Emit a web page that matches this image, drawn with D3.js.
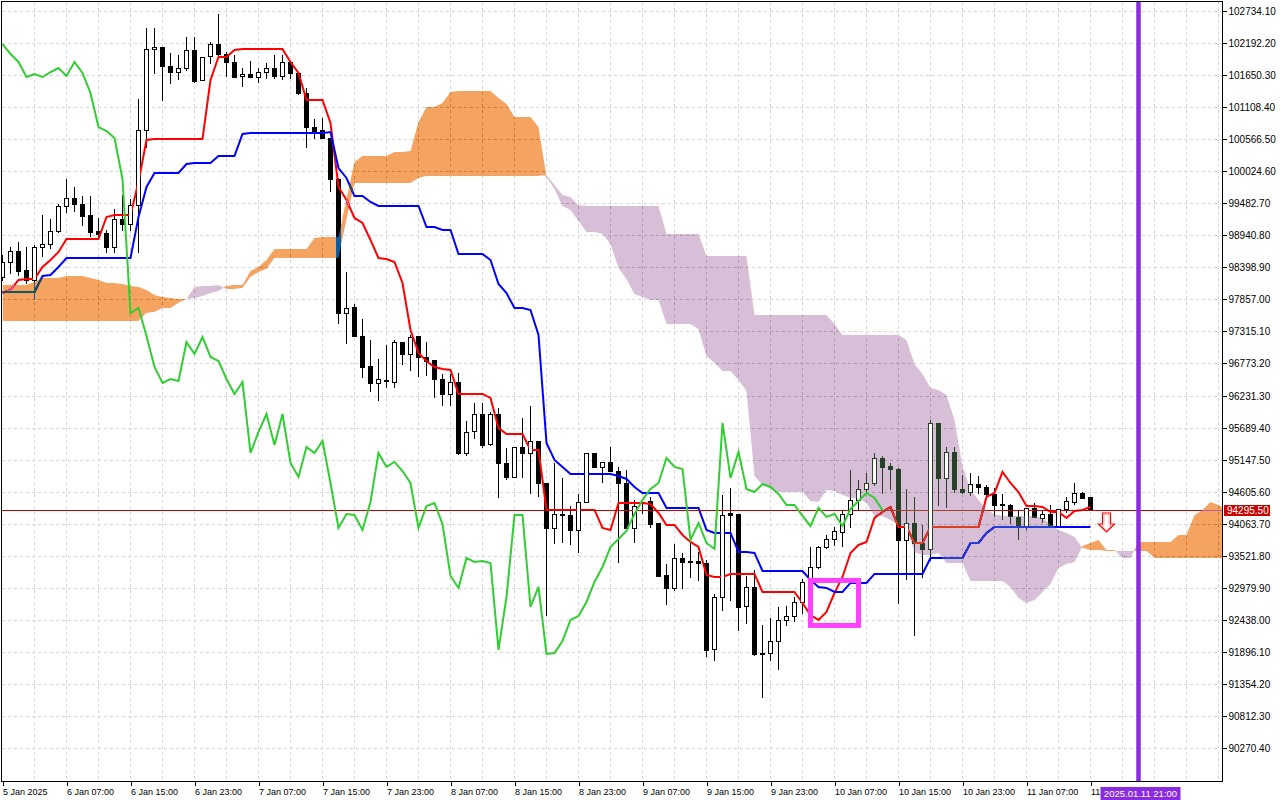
<!DOCTYPE html>
<html>
<head>
<meta charset="utf-8">
<script src="https://cdn.jsdelivr.net/npm/d3@7"></script>
<style>
html, body { margin: 0; padding: 0; background: #fff; }
svg { display: block; font-family: "Liberation Sans", Arial, sans-serif; }
</style>
</head>
<body>
<svg id="chart" width="1280" height="800"></svg>
<script>
// hourly candles, first bar = 5 Jan 23:00
const open = [
98236,98490,98676,98354,98185,98743,98794,99014,99437,99572,
99470,99284,99014,98980,98743,99217,99132,99453,100722,102091,
102125,101804,101702,101770,102075,101567,101973,102176,102007,101872,
101635,101669,101618,101702,101770,101635,101872,101686,101347,100772,
100722,100586,99893,97627,97729,97238,96731,96444,96494,96460,
97137,96934,97238,96883,96832,96511,96258,96460,95260,95632,
95919,95412,95919,95091,94854,95361,95260,95463,94752,93992,
94228,94212,93958,94431,95260,95023,95108,94955,94752,93992,
94431,94448,94076,93197,92977,93484,93434,93434,93400,91946,
92825,94245,94228,92673,92994,91878,91878,92081,92436,92504,
92740,93079,93332,93670,93806,93924,94228,94465,94651,94752,
95175,95040,94989,93789,94076,93738,93637,95767,94837,95277,
94651,94600,94735,94685,94567,94397,94380,94178,94025,94330,
94161,94228,94025,94313,94431,94583,94516];
const high = [
98608,98743,98828,98743,98777,99284,99217,99470,99893,99758,
99606,99606,99234,99031,99386,99623,99555,101246,102447,102447,
102125,102024,101990,102294,102294,101956,102210,102683,102041,101990,
101770,101889,101770,101855,101990,101990,101889,101686,101432,100908,
100925,100586,99910,98320,97779,97526,97171,96849,97086,97171,
97137,97255,97238,97137,96832,96596,96596,96613,95801,96105,
96105,95953,96020,95344,95361,95852,96054,95463,94752,95091,
94837,94364,94567,95260,95260,95108,95361,95023,94972,94465,
94482,94516,94076,93383,93721,93569,93873,93586,93450,92876,
94550,94668,94228,93180,93281,92351,92470,92656,92673,92825,
93129,93670,93687,93873,94009,94296,94972,94803,94922,95260,
95209,95091,95006,94651,94516,94042,95818,95767,95361,95361,
94888,94922,94871,94718,94668,94567,94397,94279,94330,94414,
94296,94380,94313,94516,94752,94600,94516];
const low = [
98185,98304,98270,98134,97864,98591,98726,98997,99335,99352,
99115,98929,98896,98659,98659,99031,99031,98659,100434,101686,
101229,101516,101584,101736,101533,101567,101855,101990,101635,101618,
101466,101618,101533,101601,101601,101584,101601,101330,100434,100586,
100586,99690,97458,97120,97238,96545,96308,96156,96376,96376,
96765,96663,96562,96579,96207,96071,96071,95243,95226,95514,
95361,95395,94516,94820,94854,94854,94583,94533,92520,93738,
93755,93721,93586,94431,95023,94769,94955,93417,93992,93755,
94245,94009,93180,92707,92944,92977,93163,93112,91827,91760,
92605,92774,92267,92385,91844,91134,91760,91608,92351,92419,
92555,93028,93315,93654,93704,93687,94009,94296,94583,94718,
94583,94651,92724,93129,92182,93163,93450,94380,94347,94600,
94583,94550,94583,94499,94195,94144,94076,93806,93975,94178,
94093,94025,94025,94262,94397,94499,94290];
const close = [
98490,98676,98337,98185,98743,98794,99014,99437,99572,99470,
99267,98997,98963,98743,99217,99132,99453,100722,102091,102125,
101804,101702,101770,102075,101550,101956,102176,102007,101872,101618,
101669,101618,101702,101770,101635,101872,101686,101347,100772,100705,
100586,99893,97627,97712,97238,96714,96444,96511,96477,97137,
96934,97221,96883,96815,96511,96258,96460,95260,95615,95919,
95395,95919,95091,94854,95361,95260,95463,94752,93992,94228,
94212,93958,94431,95260,95023,95108,94955,94752,93992,94364,
94414,94059,93180,92977,93484,93417,93434,93400,91929,92825,
94212,94212,92656,92994,91861,91878,92081,92436,92504,92740,
93079,93332,93670,93806,93941,94228,94465,94651,94752,95175,
95023,94989,93789,94076,93738,93637,95767,94837,95277,94651,
94600,94735,94685,94567,94380,94380,94195,94025,94330,94178,
94228,94025,94313,94448,94583,94499,94295.5];

// ichimoku lines
const tenkan = [
97965,98016,98185,98202,98202,98405,98523,98659,98878,98878,
98878,98878,98878,99250,99284,99284,99284,99842,100553,100570,
100570,100570,100570,100570,100570,100570,101567,101956,101956,102075,
102091,102091,102091,102091,102091,102091,101872,101686,101229,101229,
101229,100840,99758,99538,99234,99149,98862,98557,98540,98490,
98134,97340,96951,96815,96714,96680,96663,96258,96258,96258,
96258,96190,95683,95581,95581,95581,95311,95311,94296,94296,
94296,94296,94296,94296,94296,93992,93958,94414,94414,94414,
94414,94397,94245,94042,94042,93873,93755,93670,93197,93163,
93163,93214,93214,93214,93214,92910,92910,92910,92910,92910,
92723,92520,92436,92571,92893,93163,93569,93704,93755,94161,
94262,94347,94009,94009,93738,93738,94009,94009,94009,94009,
94009,94009,94009,94516,94583,94939,94752,94600,94364,94364,
94347,94262,94262,94161,94279,94296,94347];
const kijun = [
97982,97982,97982,97982,97982,98253,98270,98405,98557,98557,
98557,98557,98557,98557,98557,98557,98557,99250,99758,99995,
99995,99995,99995,100147,100164,100164,100164,100282,100282,100282,
100654,100671,100671,100671,100671,100671,100671,100671,100671,100671,
100671,100688,100079,99910,99606,99606,99504,99437,99437,99437,
99437,99437,99437,99081,99081,99031,99031,98625,98625,98625,
98625,98523,98117,97965,97712,97712,97678,97256,95429,95141,
95023,94905,94905,94905,94905,94905,94905,94871,94820,94685,
94583,94583,94583,94330,94330,94330,94330,94330,93958,93907,
93907,93907,93586,93586,93569,93264,93264,93264,93264,93264,
93264,93112,92994,92977,92910,92910,93062,93062,93062,93214,
93214,93214,93214,93214,93214,93214,93484,93484,93484,93484,
93484,93738,93738,93907,94009,94009,94009,94009,94009,94009,
94009,94009,94009,94009,94009,94009,94009];
// cloud, runs 26 bars past the last candle (cut by the plot edge)
const senkouA = [
98101,98101,98101,98101,98151,98219,98219,98219,98253,98253,
98253,98219,98185,98134,98134,98117,98084,98067,98016,97931,
97898,97881,97864,97864,97881,97915,97965,97999,98084,98101,
98101,98337,98405,98523,98709,98709,98709,98709,98709,98895,
98912,98912,98912,99555,100181,100282,100282,100282,100282,100350,
100350,100367,100857,101111,101111,101178,101364,101381,101381,101381,
101381,101381,101263,101161,100942,100942,100942,100772,99927,99724,
99437,99369,99183,98997,98997,98963,98794,98388,98202,97948,
97898,97847,97847,97441,97441,97441,97441,97357,96900,96782,
96646,96646,96494,96308,94871,94718,94668,94600,94600,94600,
94600,94448,94431,94634,94617,94550,94499,94499,94414,94195,
94195,94127,94042,94009,93586,93535,93535,93569,93400,93400,
93400,93095,93095,93095,93095,93095,92994,92808,92723,92774,
92910,93045,93315,93383,93417,93687,93738,93789,93620,93620,
93484,93484,93755,93755,93755,93755,93755,93873,93873,94212,
94296,94431,94380,94313];
const senkouB = [
97492,97492,97492,97492,97492,97492,97492,97492,97492,97492,
97492,97492,97492,97492,97492,97492,97492,97492,97627,97644,
97712,97712,97796,97864,98067,98084,98084,98101,98033,98033,
98050,98236,98320,98371,98557,98557,98557,98557,98557,98557,
98557,98557,98557,99200,99826,99826,99826,99826,99826,99826,
99826,99826,99910,99944,99944,99944,99944,99944,99944,99944,
99944,99944,99944,99944,99944,99944,99944,99944,99961,99792,
99623,99589,99453,99437,99437,99437,99437,99437,99437,99437,
99437,99437,99437,98963,98963,98963,98963,98963,98591,98591,
98591,98591,98591,98591,97593,97593,97593,97593,97593,97593,
97593,97593,97593,97593,97441,97255,97255,97255,97255,97255,
97255,97255,97255,97171,96765,96596,96359,96325,96241,95818,
95040,94634,94465,94296,94228,94195,94195,94195,94195,94195,
94161,94059,93958,93907,93839,93654,93620,93620,93603,93603,
93603,93603,93603,93603,93484,93484,93484,93484,93484,93484,
93484,93484,93484,93484];
// lagging span is the close drawn 26 bars back
const chikou = close.slice(26);

const priceTicks = [102734.1,102192.2,101650.3,101108.4,100566.5,100024.6,99482.7,98940.8,
    98398.9,97857.0,97315.1,96773.2,96231.3,95689.4,95147.5,94605.6,94063.7,93521.8,
    92979.9,92438.0,91896.1,91354.2,90812.3,90270.4];
const timeLabels = ['5 Jan 2025','6 Jan 07:00','6 Jan 15:00','6 Jan 23:00','7 Jan 07:00',
    '7 Jan 15:00','7 Jan 23:00','8 Jan 07:00','8 Jan 15:00','8 Jan 23:00','9 Jan 07:00',
    '9 Jan 15:00','9 Jan 23:00','10 Jan 07:00','10 Jan 15:00','10 Jan 23:00','11 Jan 07:00',
    '11 Jan 15:00'];

// chart objects
const lastPrice = 94295.5;
const boxBars = [101, 107], boxPrices = [93104, 92343];
const arrowBar = 138, arrowPrice = 94245;
const vlineBar = 142, vlineLabel = '2025.01.11 21:00';

const W = 1280, H = 800, plotRight = 1222, plotBottom = 781;
const font = '"Liberation Sans", Arial, sans-serif';

const x = d3.scaleLinear().domain([0, 152]).range([2.5, 1218.5]);
const y = d3.scaleLinear().domain([90270.4, 102734.1]).range([748, 11]);
const ry = v => Math.round(y(v));
const tickBars = d3.range(0, 137, 8);
const vx = x(vlineBar);

const svg = d3.select('#chart');
svg.append('rect').attr('width', W).attr('height', H).attr('fill', '#fff');

const defs = svg.append('defs');
defs.append('clipPath').attr('id', 'plotClip')
    .append('rect').attr('x', 2).attr('y', 2).attr('width', plotRight - 2).attr('height', plotBottom - 2);
defs.append('clipPath').attr('id', 'aboveB')
    .append('path').datum(senkouB)
    .attr('d', d3.area().x((d, i) => x(i)).y0(0).y1(d => y(d)));
defs.append('clipPath').attr('id', 'belowB')
    .append('path').datum(senkouB)
    .attr('d', d3.area().x((d, i) => x(i)).y0(plotBottom).y1(d => y(d)));
// in the last tick's own coordinates: stop where the vertical-line label starts
defs.append('clipPath').attr('id', 'labelClip')
    .append('rect').attr('x', -3).attr('y', 0)
    .attr('width', vx - 38 - x(tickBars[tickBars.length - 1]) + 3).attr('height', 20);

// everything inside the plot sits in one group so the cloud blend sees a white backdrop
const plot = svg.append('g').attr('clip-path', 'url(#plotClip)');
plot.append('rect').attr('width', plotRight).attr('height', plotBottom).attr('fill', '#fff');

const grid = plot.append('g')
    .attr('stroke', '#d6d6d6').attr('stroke-dasharray', '3,3').attr('shape-rendering', 'crispEdges');
grid.selectAll('.gh').data(priceTicks).join('line').attr('class', 'gh')
    .attr('x1', 2).attr('x2', plotRight)
    .attr('y1', d => ry(d) + 0.5).attr('y2', d => ry(d) + 0.5);
grid.selectAll('.gv').data(d3.range(4, 153, 4)).join('line').attr('class', 'gv')
    .attr('x1', d => x(d)).attr('x2', d => x(d))
    .attr('y1', 2).attr('y2', plotBottom);

const bars = d3.range(close.length);
const bodyTop = i => ry(Math.max(open[i], close[i]));
const bodyBot = i => ry(Math.min(open[i], close[i]));

const candles = plot.append('g').attr('shape-rendering', 'crispEdges');
candles.selectAll('line').data(bars).join('line')
    .attr('x1', i => x(i)).attr('x2', i => x(i))
    .attr('y1', i => ry(high[i])).attr('y2', i => ry(low[i]) + 1)
    .attr('stroke', '#000');
candles.selectAll('rect').data(bars).join('rect')
    .attr('x', i => x(i) - 2).attr('width', 4)
    .attr('y', i => bodyTop(i) + 0.5)
    .attr('height', i => Math.max(1, bodyBot(i) - bodyTop(i)))
    .attr('fill', i => close[i] >= open[i] ? '#fff' : '#000')
    .attr('stroke', '#000');

const line = d3.line().x((d, i) => x(i)).y(d => y(d));
plot.append('path').datum(tenkan).attr('d', line)
    .attr('fill', 'none').attr('stroke', '#ff0000').attr('stroke-width', 2);
plot.append('path').datum(kijun).attr('d', line)
    .attr('fill', 'none').attr('stroke', '#0000ff').attr('stroke-width', 2);

plot.append('line')
    .attr('x1', 0).attr('x2', plotRight)
    .attr('y1', ry(lastPrice) + 0.5).attr('y2', ry(lastPrice) + 0.5)
    .attr('stroke', '#c80000').attr('shape-rendering', 'crispEdges');

// cloud: inverted sandybrown / thistle with difference blend, like the XOR fill in the terminal
const band = d3.area().x(i => x(i)).y0(i => y(senkouB[i])).y1(i => y(senkouA[i]));
const cloudBars = d3.range(senkouA.length);
const cloud = plot.append('g').style('mix-blend-mode', 'difference');
cloud.append('path').datum(cloudBars).attr('d', band)
    .attr('fill', 'rgb(11,91,159)').attr('clip-path', 'url(#aboveB)');
cloud.append('path').datum(cloudBars).attr('d', band)
    .attr('fill', 'rgb(39,64,39)').attr('clip-path', 'url(#belowB)');

// hollow bodies stay white inside the cloud
plot.append('g').attr('shape-rendering', 'crispEdges')
    .selectAll('rect').data(bars.filter(i => close[i] >= open[i] && bodyBot(i) - bodyTop(i) >= 2)).join('rect')
    .attr('x', i => x(i) - 1.5).attr('width', 3)
    .attr('y', i => bodyTop(i) + 1)
    .attr('height', i => bodyBot(i) - bodyTop(i) - 1)
    .attr('fill', '#fff');

plot.append('path').datum(chikou).attr('d', line)
    .attr('fill', 'none').attr('stroke', '#32cd32').attr('stroke-width', 2);

plot.append('rect')
    .attr('x', x(boxBars[0])).attr('y', y(boxPrices[0]))
    .attr('width', x(boxBars[1]) - x(boxBars[0]))
    .attr('height', y(boxPrices[1]) - y(boxPrices[0]))
    .attr('fill', 'none').attr('stroke', '#ff40ff').attr('stroke-width', 5);

const ax = x(arrowBar), ay = y(arrowPrice);
plot.append('path')
    .attr('d', `M${ax - 4},${ay} h8 v11 h4 l-8,8 l-8,-8 h4 z`)
    .attr('fill', '#fff').attr('stroke', '#ff0000').attr('stroke-width', 1.2);
plot.append('path')
    .attr('d', `M${ax - 2.5},${ay + 1.5} h5 v11 h2.5 l-5,5 l-5,-5 h2.5 z`)
    .attr('fill', 'none').attr('stroke', '#ffb4b4').attr('stroke-width', 1);

plot.append('line')
    .attr('x1', vx).attr('x2', vx)
    .attr('y1', 0).attr('y2', plotBottom)
    .attr('stroke', '#8a2be2').attr('stroke-width', 4.5);

svg.append('rect')
    .attr('x', 1.5).attr('y', 1.5).attr('width', plotRight - 1).attr('height', plotBottom - 1)
    .attr('fill', 'none').attr('stroke', '#000').attr('shape-rendering', 'crispEdges');

// price scale
const yAxis = svg.append('g')
    .attr('transform', `translate(${plotRight + 0.5},0.5)`)
    .call(d3.axisRight(y).tickValues(priceTicks).tickSize(4).tickPadding(2).tickFormat(d => d.toFixed(2)));
yAxis.select('.domain').remove();
yAxis.selectAll('.tick').attr('transform', d => `translate(0,${ry(d)})`);
yAxis.selectAll('line').attr('stroke', '#000').attr('shape-rendering', 'crispEdges');
yAxis.selectAll('text').attr('font-size', 10).attr('font-family', font).attr('fill', '#000');

// time scale; the last label runs under the vertical-line label, so it is cut there
const xAxis = svg.append('g')
    .attr('transform', `translate(0,${plotBottom + 0.5})`)
    .call(d3.axisBottom(x).tickValues(tickBars).tickSize(4).tickPadding(3).tickFormat((d, i) => timeLabels[i]));
xAxis.select('.domain').remove();
xAxis.selectAll('line').attr('stroke', '#000').attr('shape-rendering', 'crispEdges');
xAxis.selectAll('text').attr('text-anchor', 'start').attr('x', 0)
    .attr('font-size', 9).attr('font-family', font).attr('fill', '#000');
xAxis.selectAll('.tick').filter(d => d === tickBars[tickBars.length - 1])
    .select('text').attr('clip-path', 'url(#labelClip)');

// labels for the last price and the vertical line
const py = ry(lastPrice);
svg.append('rect').attr('x', 1224).attr('y', py - 5).attr('width', 46).attr('height', 11).attr('fill', '#c80000');
svg.append('text').attr('x', 1227).attr('y', py + 0.5).attr('dy', '0.33em')
    .attr('font-size', 10).attr('font-family', font).attr('fill', '#fff').text(lastPrice.toFixed(2));

svg.append('rect').attr('x', vx - 38).attr('y', 787).attr('width', 80).attr('height', 13).attr('fill', '#8a2be2');
svg.append('text').attr('x', vx + 2).attr('y', 797).attr('text-anchor', 'middle')
    .attr('font-size', 9.5).attr('font-family', font).attr('fill', '#fff').text(vlineLabel);
</script>
</body>
</html>
